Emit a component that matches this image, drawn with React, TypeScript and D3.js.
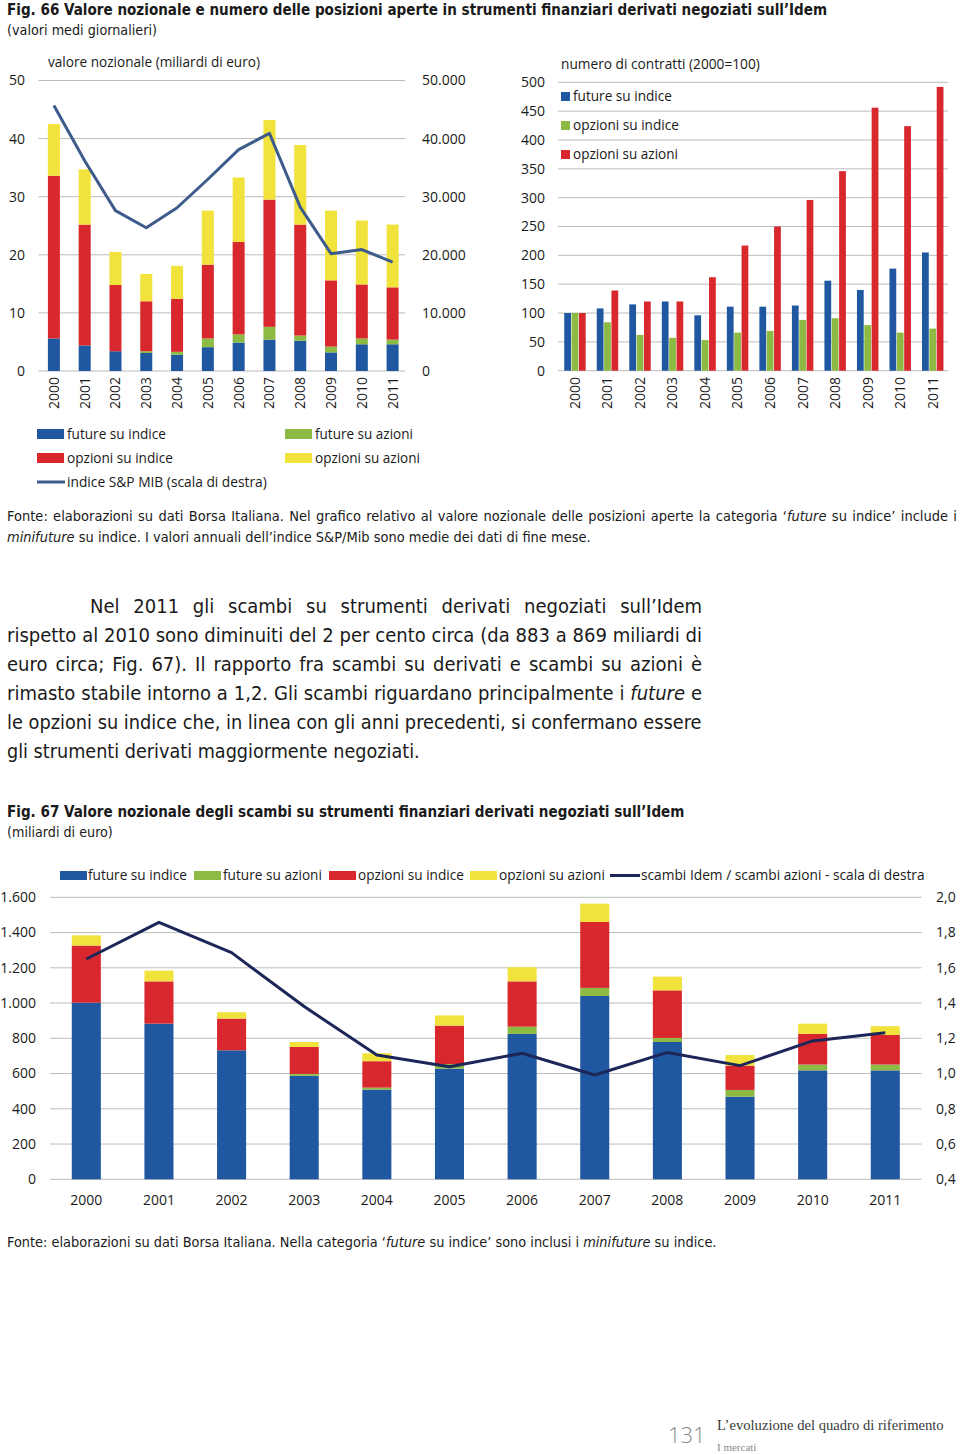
import React, { useLayoutEffect, useRef } from 'react';
import * as d3 from 'd3';

// ---------- DATA ----------
const years = ['2000', '2001', '2002', '2003', '2004', '2005', '2006', '2007', '2008', '2009', '2010', '2011'];

// Fig. 66 left: valore nozionale (miliardi di euro), stacked components
const nozFutIndice = [5.6, 4.4, 3.4, 3.1, 2.8, 4.1, 4.9, 5.4, 5.2, 3.2, 4.6, 4.6];
const nozFutAzioni = [0, 0, 0, 0.3, 0.5, 1.5, 1.4, 2.2, 0.9, 1.0, 1.0, 0.8];
const nozOpzIndice = [28.0, 20.8, 11.4, 8.6, 9.1, 12.7, 15.9, 21.9, 19.1, 11.4, 9.3, 9.0];
const nozOpzAzioni = [8.9, 9.5, 5.7, 4.7, 5.7, 9.3, 11.1, 13.7, 13.7, 12.0, 11.0, 10.8];
const indiceMib = [45700, 36200, 27600, 24650, 28100, 33000, 38100, 40900, 28200, 20200, 20900, 18750];
const leftTicks66 = [0, 10, 20, 30, 40, 50];
const rightTicks66 = [0, 10000, 20000, 30000, 40000, 50000];

// Fig. 66 right: numero di contratti (2000=100)
const contrFutIndice = [100, 108, 115, 120, 96, 111, 111, 113, 156, 140, 177, 205];
const contrOpzIndice = [100, 84, 62, 57, 53, 66, 69, 88, 91, 79, 66, 73];
const contrOpzAzioni = [100, 139, 120, 120, 162, 217, 250, 296, 346, 456, 424, 492];
const contrTicks = [0, 50, 100, 150, 200, 250, 300, 350, 400, 450, 500];

// Fig. 67: scambi (miliardi di euro)
const scFutIndice = [1002, 883, 732, 588, 509, 628, 825, 1040, 779, 469, 618, 618];
const scFutAzioni = [0, 0, 0, 10, 11, 26, 41, 46, 23, 38, 33, 33];
const scOpzIndice = [324, 240, 180, 153, 150, 218, 257, 374, 270, 138, 174, 168];
const scOpzAzioni = [58, 61, 36, 28, 45, 58, 80, 104, 78, 60, 58, 50];
const rapportoIdemAzioni = [1.65, 1.858, 1.686, 1.38, 1.105, 1.039, 1.115, 0.992, 1.12, 1.045, 1.185, 1.232];
const leftTicks67 = [0, 200, 400, 600, 800, 1000, 1200, 1400, 1600];
const rightTicks67 = [0.4, 0.6, 0.8, 1.0, 1.2, 1.4, 1.6, 1.8, 2.0];

const legend66 = ['future su indice', 'future su azioni', 'opzioni su indice', 'opzioni su azioni', 'indice S&P MIB (scala di destra)'];
const legendContr = ['future su indice', 'opzioni su indice', 'opzioni su azioni'];
const legend67 = ['future su indice', 'future su azioni', 'opzioni su indice', 'opzioni su azioni', 'scambi Idem / scambi azioni - scala di destra'];

// ---------- STYLE ----------
const COL = { blue: '#1f58a0', green: '#8cba42', red: '#d8282e', yellow: '#f1e33b' };
const GRID = '#bcbcbc';
const TXT = '#1a1a1a';
const SANS = '"Open Sans", "Noto Sans", sans-serif';
const NARROW = '"Liberation Sans Narrow", "DejaVu Sans Condensed", "Open Sans", sans-serif';
const SERIF = '"Liberation Serif", "DejaVu Serif", serif';

const loc = d3.formatLocale({ decimal: ',', thousands: '.', grouping: [3], currency: ['', ''] });
const fmtThousands = loc.format(',');
const fmtDec = loc.format('.1f');

type Part = { t: string; i?: boolean };

function FitText(props: {
  x: number; y: number; w: number; parts: Part[]; size: number; weight?: number | string;
  family?: string; fill?: string; justify?: boolean;
}) {
  const { x, y, w, parts, size, weight = 400, family = NARROW, fill = TXT, justify = false } = props;
  const ref = useRef<SVGTextElement>(null);
  useLayoutEffect(() => {
    const el = ref.current;
    if (!el) return;
    el.removeAttribute('transform');
    el.style.wordSpacing = '0px';
    const nat = el.getComputedTextLength();
    if (!nat) return;
    const text = parts.map((p) => p.t).join('');
    const nSp = (text.match(/ /g) || []).length;
    if (justify && nat < w && nSp > 0) {
      el.style.wordSpacing = (w - nat) / nSp + 'px';
    } else {
      const s = w / nat;
      el.setAttribute('transform', `translate(${x} 0) scale(${s} 1) translate(${-x} 0)`);
    }
  });
  return (
    <text ref={ref} x={x} y={y} fontSize={size} fontWeight={weight} fontFamily={family} fill={fill} style={{ whiteSpace: 'pre' }}>
      {parts.map((p, k) => (
        <tspan key={k} fontStyle={p.i ? 'italic' : 'normal'}>{p.t}</tspan>
      ))}
    </text>
  );
}

function Fig66Left() {
  const x = d3.scaleBand<string>().domain(years).range([38.5, 408]).paddingInner(0.61).paddingOuter(0.305);
  const y = d3.scaleLinear().domain([0, 50]).range([371, 80.5]);
  const yr = d3.scaleLinear().domain([0, 50000]).range([371, 80.5]);
  const table = years.map((yy, i) => ({ year: yy, fi: nozFutIndice[i], fa: nozFutAzioni[i], oi: nozOpzIndice[i], oa: nozOpzAzioni[i] }));
  const keys = ['fi', 'fa', 'oi', 'oa'];
  const colors = [COL.blue, COL.green, COL.red, COL.yellow];
  const series = d3.stack<any>().keys(keys)(table);
  const bw = x.bandwidth();
  const line = d3.line<number>().x((_, i) => (x(years[i]) as number) + bw / 2).y((d) => yr(d));
  return (
    <g>
      {leftTicks66.map((t) => (
        <line key={t} x1={38.5} x2={405} y1={y(t)} y2={y(t)} stroke={GRID} strokeWidth={1} />
      ))}
      {leftTicks66.map((t) => (
        <text key={'l' + t} x={25} y={y(t)} dy="0.35em" textAnchor="end" fontSize={14} fontFamily={SANS} fill={TXT}>{t}</text>
      ))}
      {rightTicks66.map((t) => (
        <text key={'r' + t} x={422} y={yr(t)} dy="0.35em" textAnchor="start" fontSize={14} fontFamily={SANS} fill={TXT}>{fmtThousands(t)}</text>
      ))}
      {series.map((s, si) => (
        <g key={si} fill={colors[si]}>
          {s.map((d: any, i: number) => (
            <rect key={i} x={x(years[i])} y={y(d[1])} width={bw} height={Math.max(0, y(d[0]) - y(d[1]))} />
          ))}
        </g>
      ))}
      <path d={line(indiceMib) || ''} fill="none" stroke="#3d5c8b" strokeWidth={3} strokeLinejoin="round" />
      {years.map((yy) => (
        <text key={yy} transform={`translate(${(x(yy) as number) + bw / 2},377) rotate(-90)`} dy="0.35em" textAnchor="end" fontSize={14} fontFamily={SANS} fill={TXT}>{yy}</text>
      ))}
      <FitText x={48} y={67} w={212} parts={[{ t: 'valore nozionale (miliardi di euro)' }]} size={14} family={SANS} />
    </g>
  );
}

function Fig66Right() {
  const x = d3.scaleBand<string>().domain(years).range([558.7, 949]).paddingInner(0.34).paddingOuter(0.17);
  const keys = ['fi', 'oi', 'oa'];
  const xi = d3.scaleBand<string>().domain(keys).range([0, x.bandwidth()]).paddingInner(0.08);
  const y = d3.scaleLinear().domain([0, 500]).range([370.7, 82.3]);
  const vals = [contrFutIndice, contrOpzIndice, contrOpzAzioni];
  const colors = [COL.blue, COL.green, COL.red];
  const legW = [99, 106, 105];
  return (
    <g>
      {contrTicks.map((t) => (
        <line key={t} x1={558} x2={948} y1={y(t)} y2={y(t)} stroke={GRID} strokeWidth={1} />
      ))}
      {contrTicks.map((t) => (
        <text key={'l' + t} x={545} y={y(t)} dy="0.35em" textAnchor="end" fontSize={14} fontFamily={SANS} fill={TXT}>{t}</text>
      ))}
      {keys.map((k, si) => (
        <g key={k} fill={colors[si]}>
          {years.map((yy, i) => (
            <rect key={yy} x={(x(yy) as number) + (xi(k) as number)} y={y(vals[si][i])} width={xi.bandwidth()} height={y(0) - y(vals[si][i])} />
          ))}
        </g>
      ))}
      {years.map((yy) => (
        <text key={yy} transform={`translate(${(x(yy) as number) + x.bandwidth() / 2},377) rotate(-90)`} dy="0.35em" textAnchor="end" fontSize={14} fontFamily={SANS} fill={TXT}>{yy}</text>
      ))}
      <FitText x={561} y={69} w={199} parts={[{ t: 'numero di contratti (2000=100)' }]} size={14} family={SANS} />
      {legendContr.map((l, i) => (
        <g key={l}>
          <rect x={561} y={92 + i * 29} width={9} height={9} fill={colors[i]} />
          <FitText x={573} y={101 + i * 29} w={legW[i]} size={14} family={SANS} parts={[{ t: l }]} />
        </g>
      ))}
    </g>
  );
}

function Legend66() {
  const colors = [COL.blue, COL.green, COL.red, COL.yellow];
  const pos = [
    [37, 434], [285, 434], [37, 458], [285, 458],
  ];
  const widths = [99, 98, 106, 105];
  return (
    <g>
      {pos.map((p, i) => (
        <g key={i}>
          <rect x={p[0]} y={p[1] - 5} width={27} height={10} fill={colors[i]} />
          <FitText x={p[0] + 30} y={p[1] + 5} w={widths[i]} size={14} family={SANS} parts={[{ t: legend66[i] }]} />
        </g>
      ))}
      <line x1={37} x2={65} y1={482} y2={482} stroke="#3d5c8b" strokeWidth={3} />
      <FitText x={67} y={487} w={200} size={14} family={SANS} parts={[{ t: legend66[4] }]} />
    </g>
  );
}

function Fig67() {
  const x = d3.scaleBand<string>().domain(years).range([50, 921.6]).paddingInner(0.6).paddingOuter(0.3);
  const y = d3.scaleLinear().domain([0, 1600]).range([1179.3, 897.3]);
  const yr = d3.scaleLinear().domain([0.4, 2.0]).range([1179.3, 897.3]);
  const table = years.map((yy, i) => ({ year: yy, fi: scFutIndice[i], fa: scFutAzioni[i], oi: scOpzIndice[i], oa: scOpzAzioni[i] }));
  const keys = ['fi', 'fa', 'oi', 'oa'];
  const colors = [COL.blue, COL.green, COL.red, COL.yellow];
  const series = d3.stack<any>().keys(keys)(table);
  const bw = x.bandwidth();
  const line = d3.line<number>().x((_, i) => (x(years[i]) as number) + bw / 2).y((d) => yr(d));
  const legX = [60, 194, 329, 470];
  const legT = [88, 223, 358, 499];
  const legW = [99, 99, 106, 106];
  return (
    <g>
      {leftTicks67.map((t) => (
        <line key={t} x1={50} x2={921.6} y1={y(t)} y2={y(t)} stroke={GRID} strokeWidth={1} />
      ))}
      {leftTicks67.map((t) => (
        <text key={'l' + t} x={36} y={y(t)} dy="0.35em" textAnchor="end" fontSize={14} fontFamily={SANS} fill={TXT}>{fmtThousands(t)}</text>
      ))}
      {rightTicks67.map((t) => (
        <text key={'r' + t} x={936} y={yr(t)} dy="0.35em" textAnchor="start" fontSize={14} fontFamily={SANS} fill={TXT}>{fmtDec(t)}</text>
      ))}
      {series.map((s, si) => (
        <g key={si} fill={colors[si]}>
          {s.map((d: any, i: number) => (
            <rect key={i} x={x(years[i])} y={y(d[1])} width={bw} height={Math.max(0, y(d[0]) - y(d[1]))} />
          ))}
        </g>
      ))}
      <path d={line(rapportoIdemAzioni) || ''} fill="none" stroke="#1c2658" strokeWidth={3} strokeLinejoin="round" />
      {years.map((yy) => (
        <text key={yy} x={(x(yy) as number) + bw / 2} y={1205} textAnchor="middle" fontSize={14} fontFamily={SANS} fill={TXT}>{yy}</text>
      ))}
      {legX.map((lx, i) => (
        <g key={i}>
          <rect x={lx} y={871} width={27} height={9} fill={colors[i]} />
          <FitText x={legT[i]} y={880} w={legW[i]} size={14} family={SANS} parts={[{ t: legend67[i] }]} />
        </g>
      ))}
      <line x1={610} x2={640} y1={875.5} y2={875.5} stroke="#1c2658" strokeWidth={3} />
      <FitText x={641} y={880} w={284} size={14} family={SANS} parts={[{ t: legend67[4] }]} />
    </g>
  );
}

export default function App() {
  return (
    <svg width={960} height={1454} style={{ position: 'absolute', left: 0, top: 0, display: 'block' }}>
      <rect x={0} y={0} width={960} height={1454} fill="#ffffff" />
      <FitText x={7} y={15} w={821} size={16} weight={700} parts={[{ t: 'Fig. 66 Valore nozionale e numero delle posizioni aperte in strumenti finanziari derivati negoziati sull’Idem' }]} />
      <FitText x={7} y={35} w={150} size={14} parts={[{ t: '(valori medi giornalieri)' }]} />

      <Fig66Left />
      <Fig66Right />
      <Legend66 />

      <FitText x={7} y={521} w={950} size={14.5} justify parts={[{ t: 'Fonte: elaborazioni su dati Borsa Italiana. Nel grafico relativo al valore nozionale delle posizioni aperte la categoria ‘' }, { t: 'future', i: true }, { t: ' su indice’ include i' }]} />
      <FitText x={7} y={542} w={584} size={14.5} parts={[{ t: 'minifuture', i: true }, { t: ' su indice. I valori annuali dell’indice S&P/Mib sono medie dei dati di fine mese.' }]} />

      <FitText x={90} y={613} w={612} size={20} justify parts={[{ t: 'Nel 2011 gli scambi su strumenti derivati negoziati sull’Idem' }]} />
      <FitText x={7} y={642} w={695} size={20} justify parts={[{ t: 'rispetto al 2010 sono diminuiti del 2 per cento circa (da 883 a 869 miliardi di' }]} />
      <FitText x={7} y={671} w={695} size={20} justify parts={[{ t: 'euro circa; Fig. 67). Il rapporto fra scambi su derivati e scambi su azioni è' }]} />
      <FitText x={7} y={700} w={695} size={20} justify parts={[{ t: 'rimasto stabile intorno a 1,2. Gli scambi riguardano principalmente i ' }, { t: 'future', i: true }, { t: ' e' }]} />
      <FitText x={7} y={729} w={695} size={20} justify parts={[{ t: 'le opzioni su indice che, in linea con gli anni precedenti, si confermano essere' }]} />
      <FitText x={7} y={758} w={413} size={20} parts={[{ t: 'gli strumenti derivati maggiormente negoziati.' }]} />

      <FitText x={7} y={817} w={678} size={16} weight={700} parts={[{ t: 'Fig. 67 Valore nozionale degli scambi su strumenti finanziari derivati negoziati sull’Idem' }]} />
      <FitText x={7} y={837} w={106} size={14} parts={[{ t: '(miliardi di euro)' }]} />

      <Fig67 />

      <FitText x={7} y={1247} w={710} size={14.5} parts={[{ t: 'Fonte: elaborazioni su dati Borsa Italiana. Nella categoria ‘' }, { t: 'future', i: true }, { t: ' su indice’ sono inclusi i ' }, { t: 'minifuture', i: true }, { t: ' su indice.' }]} />

      <text x={668} y={1443} fontSize={22} fontFamily={SANS} fontWeight={300} fill="#8a8a8a">131</text>
      <FitText x={717} y={1430} w={227} size={15} family={SERIF} fill="#3a3a3a" parts={[{ t: 'L’evoluzione del quadro di riferimento' }]} />
      <text x={717} y={1451} fontSize={11} fontFamily={SERIF} fill="#8a8a8a">I mercati</text>
    </svg>
  );
}
